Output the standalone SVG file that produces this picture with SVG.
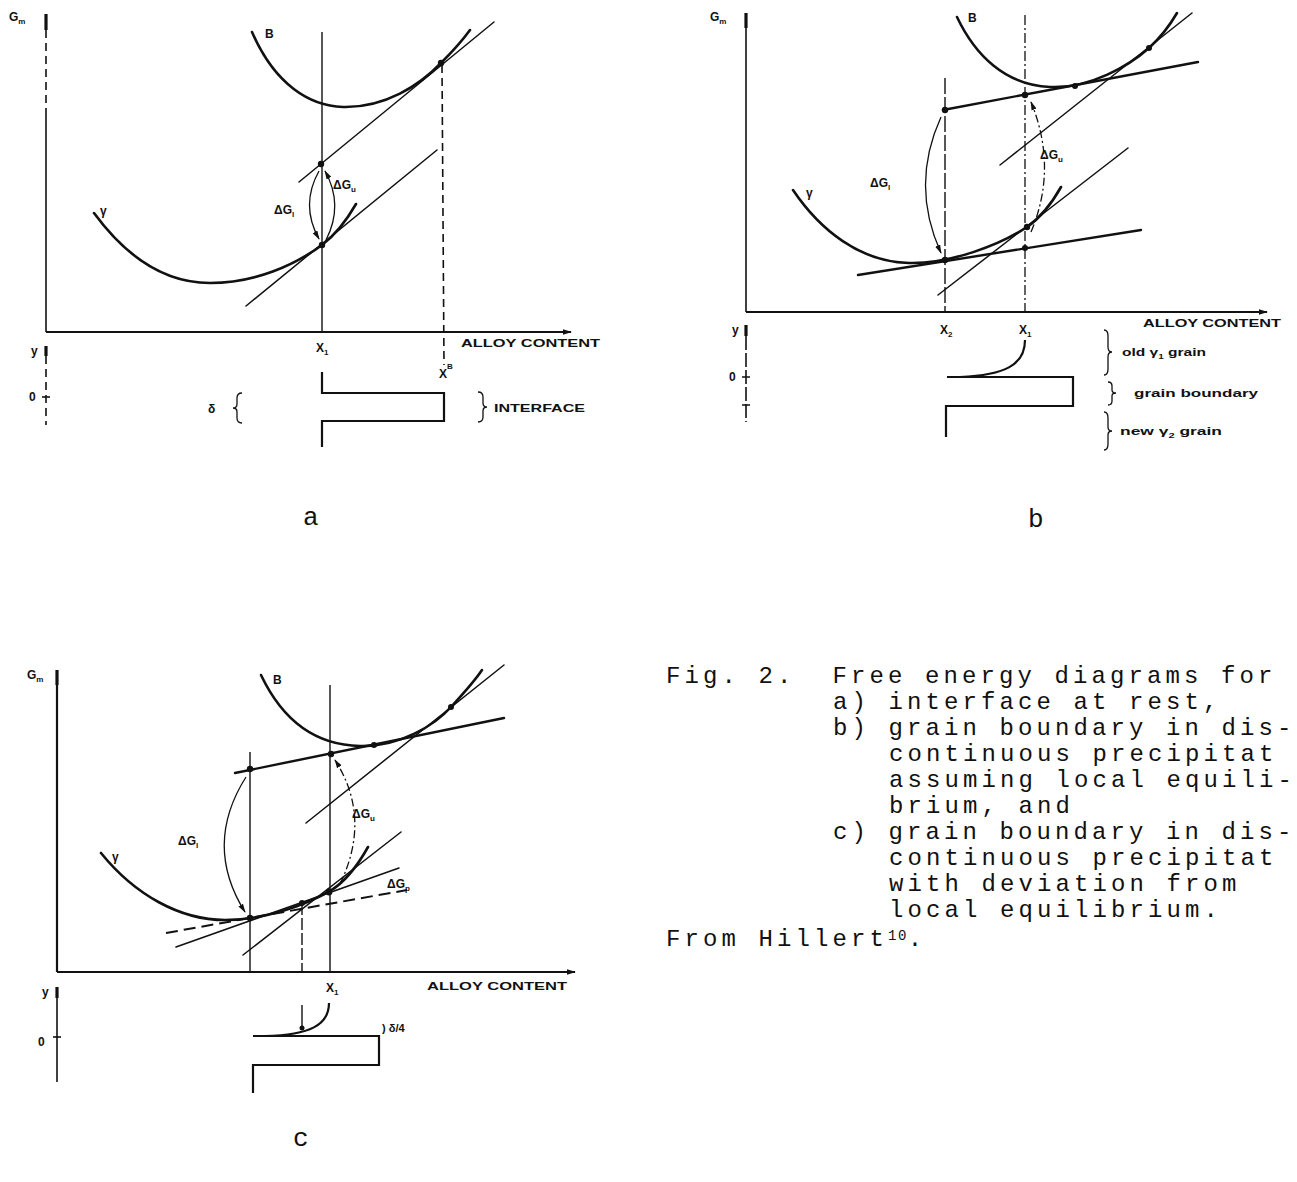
<svg xmlns="http://www.w3.org/2000/svg" width="1297" height="1182" viewBox="0 0 1297 1182">
<defs>
<marker id="ah" viewBox="0 0 10 6" refX="9" refY="3" markerWidth="9" markerHeight="6" markerUnits="userSpaceOnUse" orient="auto">
<path d="M0,0 L10,3 L0,6 z" fill="#111"/>
</marker>
<style>
.c{fill:none;stroke:#111;stroke-width:2.6;stroke-linecap:round}
.l{fill:none;stroke:#111;stroke-width:1.5;stroke-linecap:round}
.t{fill:none;stroke:#111;stroke-width:2.4;stroke-linecap:round}
.ax{fill:none;stroke:#111;stroke-width:2.2}
.ax2{fill:none;stroke:#111;stroke-width:1.6}
.tk{fill:none;stroke:#111;stroke-width:3.2}
.v{fill:none;stroke:#111;stroke-width:1.4}
.dl{fill:none;stroke:#111;stroke-width:1.6;stroke-dasharray:8 5}
.dd{fill:none;stroke:#111;stroke-width:1.3;stroke-dasharray:10 3 2 3}
.ds{fill:none;stroke:#111;stroke-width:2;stroke-dasharray:12 6}
.pr{fill:none;stroke:#111;stroke-width:2.2}
.br{fill:none;stroke:#111;stroke-width:1.3}
.arr{fill:none;stroke:#111;stroke-width:1.3;marker-end:url(#ah)}
.arrd{fill:none;stroke:#111;stroke-width:1.3;stroke-dasharray:8 3 2 3;marker-end:url(#ah)}
.dot{fill:#111}
.lb{font-family:"Liberation Sans",Arial,sans-serif;font-weight:bold;font-size:12px;fill:#111}
.sm{font-family:"Liberation Sans",Arial,sans-serif;font-weight:bold;font-size:11px;fill:#111}
.cap{font-family:"Liberation Mono","Courier New",monospace;font-size:24px;letter-spacing:4.1px;fill:#111}
.pl{font-family:"Liberation Mono","Courier New",monospace;font-size:26px;fill:#111}
</style>
</defs>
<rect width="1297" height="1182" fill="#fff"/>

<!-- Panel a -->
<g id="panel-a">
<text class="lb" x="9" y="21">G<tspan font-size="8" dy="3">m</tspan></text>
<path class="tk" d="M46,14 V30"/>
<path class="dl" d="M46,30 V110"/>
<path class="ax2" d="M46,110 V332"/>
<path class="ax" d="M46,332 H571" marker-end="url(#ah)"/>
<text class="sm" x="461" y="347" textLength="139" lengthAdjust="spacingAndGlyphs">ALLOY CONTENT</text>
<path class="v" d="M322,32 V332"/>
<path class="dl" d="M442,65 L444,365"/>
<path class="l" d="M299,182 L494,22"/>
<path class="l" d="M246,306 L437,150"/>
<path class="c" d="M252,32 C275,85 310,106 343,107 C385,108 420,85 441,63 C452,52 462,41 470,30"/>
<path class="c" d="M94,213 C130,262 170,283 210,283 C255,283 295,265 322,245 C335,235 348,218 356,204"/>
<circle class="dot" cx="321" cy="164" r="3.2"/>
<circle class="dot" cx="441" cy="63" r="3.2"/>
<circle class="dot" cx="322" cy="245" r="3.2"/>
<path class="arr" d="M319,171 Q300,205 319,239"/>
<path class="arr" d="M326,240 Q344,205 325,171"/>
<text class="lb" x="100" y="215">γ</text>
<text class="lb" x="265" y="38">B</text>
<text class="lb" x="274" y="214">ΔG<tspan font-size="8" dy="3">l</tspan></text>
<text class="lb" x="333" y="189">ΔG<tspan font-size="8" dy="3">u</tspan></text>
<text class="lb" x="316" y="352">X<tspan font-size="8" dy="3">1</tspan></text>
<text class="lb" x="439" y="378">X<tspan font-size="8" dy="-9">B</tspan></text>
<path class="tk" d="M46,346 V356"/>
<path class="dl" d="M46,356 V425"/>
<path class="ax2" d="M42,397 H50"/>
<text class="lb" x="31" y="355">y</text>
<text class="lb" x="29" y="401">0</text>
<path class="pr" d="M322,372 V393 H444 V421 H322 V447"/>
<text class="lb" x="208" y="413">δ</text>
<path class="br" d="M242,393 Q237,393 237,398 V404 Q237,408 233,408 Q237,408 237,412 V418 Q237,423 242,423"/>
<path class="br" d="M478,392 Q483,392 483,397 V403 Q483,407 487,407 Q483,407 483,411 V417 Q483,422 478,422"/>
<text class="sm" x="494" y="412" textLength="91" lengthAdjust="spacingAndGlyphs">INTERFACE</text>
</g>

<!-- Panel b -->
<g id="panel-b">
<text class="lb" x="710" y="21">G<tspan font-size="8" dy="3">m</tspan></text>
<path class="tk" d="M746,13 V28"/>
<path class="ax2" d="M746,28 V312"/>
<path class="ax" d="M746,312 H1267" marker-end="url(#ah)"/>
<text class="sm" x="1143" y="327" textLength="138" lengthAdjust="spacingAndGlyphs">ALLOY CONTENT</text>
<path class="v" d="M945,78 V312" style="stroke-dasharray:16 3"/>
<path class="dd" d="M1025,15 V312"/>
<path class="c" d="M957,17 C975,55 1005,85 1050,87 C1090,89 1130,65 1149,48 C1160,38 1170,25 1177,13"/>
<path class="c" d="M793,190 C820,230 860,262 909,263 C950,264 1000,245 1027,227 C1040,218 1052,203 1061,187"/>
<path class="t" d="M943,110 L1198,62"/>
<path class="l" d="M1000,165 L1192,13"/>
<path class="l" d="M938,295 L1128,148"/>
<path class="t" d="M858,275 L1141,230"/>
<circle class="dot" cx="945" cy="110" r="3.2"/>
<circle class="dot" cx="1025" cy="95" r="3.2"/>
<circle class="dot" cx="1075" cy="86" r="3"/>
<circle class="dot" cx="1149" cy="48" r="3"/>
<circle class="dot" cx="945" cy="260" r="3.2"/>
<circle class="dot" cx="1025" cy="248" r="3"/>
<circle class="dot" cx="1027" cy="227" r="3.2"/>
<path class="arr" d="M941,117 Q910,185 941,253"/>
<path class="arrd" d="M1031,232 Q1058,168 1031,102"/>
<text class="lb" x="870" y="187">ΔG<tspan font-size="8" dy="3">l</tspan></text>
<text class="lb" x="1040" y="159">ΔG<tspan font-size="8" dy="3">u</tspan></text>
<text class="lb" x="806" y="197">γ</text>
<text class="lb" x="968" y="22">B</text>
<path class="tk" d="M746,325 V336"/>
<path class="ax2" d="M746,336 V422" style="stroke-dasharray:14 3"/>
<path class="ax2" d="M742,377 H750 M742,405 H750"/>
<text class="lb" x="732" y="334">y</text>
<text class="lb" x="729" y="381">0</text>
<text class="lb" x="940" y="334">X<tspan font-size="8" dy="3">2</tspan></text>
<text class="lb" x="1019" y="334">X<tspan font-size="8" dy="3">1</tspan></text>
<path class="pr" d="M1025,340 C1025,365 1005,375 960,377"/>
<path class="pr" d="M947,377 H1073 V406 H946 V437"/>
<path class="br" d="M1104,330 Q1108,330 1108,336 V347 Q1108,352 1112,352 Q1108,352 1108,357 V369 Q1108,375 1104,375"/>
<path class="br" d="M1108,382 Q1112,382 1112,386 V390 Q1112,393 1116,393 Q1112,393 1112,396 V401 Q1112,405 1108,405"/>
<path class="br" d="M1104,412 Q1108,412 1108,418 V427 Q1108,431 1112,431 Q1108,431 1108,435 V444 Q1108,450 1104,450"/>
<text class="sm" x="1122" y="356" textLength="84" lengthAdjust="spacingAndGlyphs">old γ<tspan font-size="7" dy="3">1</tspan><tspan dy="-3"> grain</tspan></text>
<text class="sm" x="1134" y="397" textLength="124" lengthAdjust="spacingAndGlyphs">grain boundary</text>
<text class="sm" x="1120" y="435" textLength="102" lengthAdjust="spacingAndGlyphs">new γ<tspan font-size="7" dy="3">2</tspan><tspan dy="-3"> grain</tspan></text>
</g>

<!-- Panel c -->
<g id="panel-c">
<text class="lb" x="27" y="679">G<tspan font-size="8" dy="3">m</tspan></text>
<path class="tk" d="M57,670 V685"/>
<path class="ax" d="M57,685 V972"/>
<path class="ax" d="M57,972 H575" marker-end="url(#ah)"/>
<text class="sm" x="427" y="990" textLength="140" lengthAdjust="spacingAndGlyphs">ALLOY CONTENT</text>
<path class="v" d="M250,752 V972"/>
<path class="v" d="M302,903 V972" style="stroke-dasharray:12 3"/>
<path class="v" d="M330,685 V972"/>
<path class="c" d="M261,675 C280,715 310,745 360,746 C400,747 435,725 451,707 C462,695 474,682 482,670"/>
<path class="c" d="M101,853 C135,895 180,920 225,920 C265,920 305,905 330,891 C345,882 358,865 368,847"/>
<path class="t" d="M235,773 L504,718"/>
<path class="l" d="M306,823 L504,665"/>
<path class="l" d="M243,955 L401,832"/>
<path class="l" d="M176,947 L399,868"/>
<path class="ds" d="M166,933 L407,890"/>
<circle class="dot" cx="250" cy="769" r="3.2"/>
<circle class="dot" cx="331" cy="754" r="3.2"/>
<circle class="dot" cx="374" cy="745" r="3"/>
<circle class="dot" cx="451" cy="707" r="3"/>
<circle class="dot" cx="250" cy="918" r="3.2"/>
<circle class="dot" cx="302" cy="903" r="3"/>
<circle class="dot" cx="329" cy="892" r="3.4"/>
<path class="arr" d="M246,777 Q203,845 245,912"/>
<path class="arrd" d="M340,884 Q372,818 335,760"/>
<text class="lb" x="178" y="845">ΔG<tspan font-size="8" dy="3">l</tspan></text>
<text class="lb" x="352" y="818">ΔG<tspan font-size="8" dy="3">u</tspan></text>
<text class="lb" x="387" y="888">ΔG<tspan font-size="8" dy="3">p</tspan></text>
<text class="lb" x="112" y="861">γ</text>
<text class="lb" x="273" y="684">B</text>
<path class="tk" d="M57,987 V998"/>
<path class="ax2" d="M57,998 V1082"/>
<path class="ax2" d="M53,1037 H61"/>
<text class="lb" x="42" y="996">y</text>
<text class="lb" x="38" y="1046">0</text>
<text class="lb" x="326" y="992">X<tspan font-size="8" dy="3">1</tspan></text>
<path class="v" d="M302,1005 V1028"/>
<circle class="dot" cx="302" cy="1028" r="2.5"/>
<path class="pr" d="M329,1003 C329,1025 310,1035 265,1036"/>
<path class="pr" d="M253,1036 H379 V1065 H253 V1093"/>
<text class="sm" x="382" y="1032">) δ/4</text>
</g>

<!-- Panel letters -->
<g id="panel-letters">
<text class="pl" x="303" y="525">a</text>
<text class="pl" x="1028" y="527">b</text>
<text class="pl" x="293" y="1146">c</text>
</g>

<!-- Caption -->
<g id="caption">
<text class="cap" xml:space="preserve"><tspan x="666" y="683">Fig. 2.  Free energy diagrams for</tspan><tspan x="833" y="709">a) interface at rest,</tspan><tspan x="833" y="735">b) grain boundary in dis-</tspan><tspan x="889" y="761">continuous precipitat</tspan><tspan x="889" y="787">assuming local equili-</tspan><tspan x="889" y="813">brium, and</tspan><tspan x="833" y="839">c) grain boundary in dis-</tspan><tspan x="889" y="865">continuous precipitat</tspan><tspan x="889" y="891">with deviation from</tspan><tspan x="889" y="917">local equilibrium.</tspan><tspan x="666" y="946">From Hillert</tspan><tspan font-size="14" letter-spacing="1.5" dy="-6">10</tspan><tspan dy="6">.</tspan></text>
</g>
</svg>
